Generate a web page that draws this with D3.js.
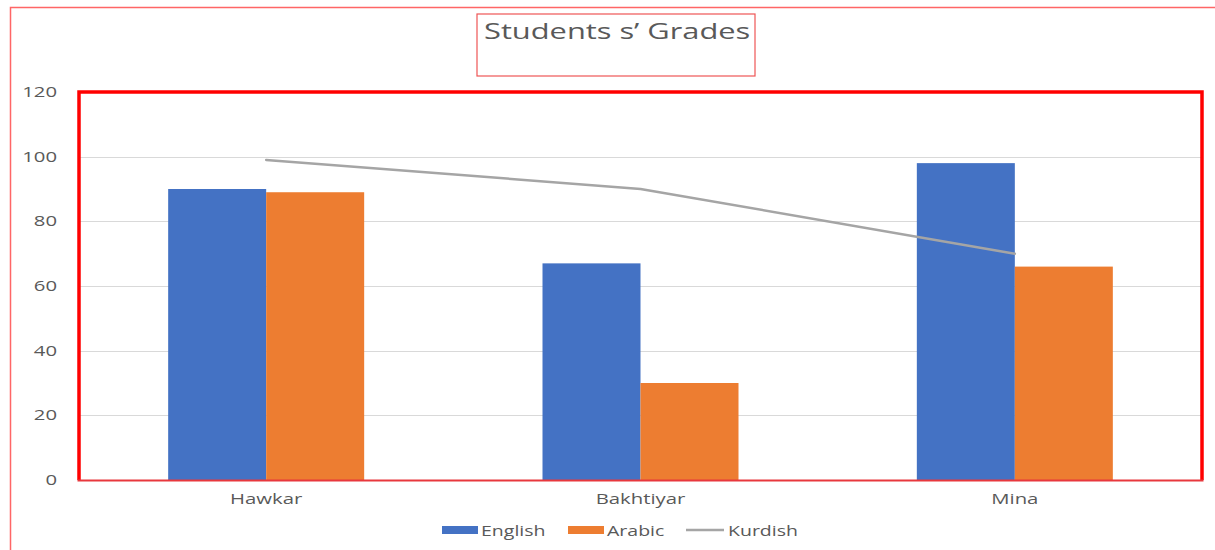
<!DOCTYPE html>
<html>
<head>
<meta charset="utf-8">
<script src="https://cdn.jsdelivr.net/npm/d3@7"></script>
<style>
  body { margin: 0; background: #fff; }
  svg { display: block; font-family: "Open Sans", "DejaVu Sans", sans-serif; }
</style>
</head>
<body>
<svg id="chart" width="1215" height="550"></svg>
<script>
const students = ["Hawkar", "Bakhtiyar", "Mina"];
const english = [90, 67, 98];
const arabic = [89, 30, 66];
const kurdish = [99, 90, 70];
const yTicks = [0, 20, 40, 60, 80, 100, 120];

const colors = { English: "#4472c4", Arabic: "#ed7d31", Kurdish: "#a5a5a5" };
const textColor = "#595959";

const width = 1215;
const height = 550;
const plot = { left: 79, right: 1202, top: 92, bottom: 480 };

const svg = d3.select("#chart");

// the source picture is stretched sideways, so widen the glyphs to match
function stretch(sel, k) {
  sel.each(function () {
    const len = this.getComputedTextLength();
    d3.select(this)
      .attr("textLength", len * k)
      .attr("lengthAdjust", "spacingAndGlyphs");
  });
}

// outer frame (thin red)
svg.append("path")
  .attr("d", `M10.5,${height} V7.5 H${width}`)
  .attr("fill", "none")
  .attr("stroke", "#ff6666")
  .attr("stroke-width", 1.5);

// title box
svg.append("rect")
  .attr("x", 477).attr("y", 14)
  .attr("width", 278).attr("height", 62)
  .attr("fill", "none")
  .attr("stroke", "#ee5555")
  .attr("stroke-width", 1.2);

svg.append("text")
  .attr("x", 484).attr("y", 39)
  .attr("fill", textColor)
  .attr("font-size", "22px")
  .text("Students s’ Grades")
  .call(stretch, 1.4);

const x = d3.scaleBand()
  .domain(students)
  .range([plot.left, plot.right]);

const barW = 98;
const xSub = d3.scaleBand()
  .domain(["English", "Arabic"])
  .range([x.bandwidth() / 2 - barW, x.bandwidth() / 2 + barW]);

const y = d3.scaleLinear()
  .domain([0, 120])
  .range([plot.bottom, plot.top]);

// gridlines
svg.append("g")
  .selectAll("line")
  .data(yTicks.slice(1))
  .join("line")
  .attr("x1", plot.left).attr("x2", plot.right)
  .attr("y1", (d) => Math.round(y(d)) + 0.5)
  .attr("y2", (d) => Math.round(y(d)) + 0.5)
  .attr("stroke", "#d9d9d9")
  .attr("stroke-width", 1);

// y axis labels
const yAxis = svg.append("g")
  .attr("transform", `translate(${plot.left}, 0)`)
  .call(d3.axisLeft(y).tickValues(yTicks).tickSize(0).tickPadding(22));
yAxis.select(".domain").remove();
yAxis.selectAll("text")
  .attr("fill", textColor)
  .attr("font-size", "14px")
  .attr("font-family", "\"Open Sans\", sans-serif")
  .call(stretch, 1.45);

// bars
const series = [
  { name: "English", values: english },
  { name: "Arabic", values: arabic },
];

svg.append("g")
  .selectAll("g")
  .data(series)
  .join("g")
  .attr("fill", (s) => colors[s.name])
  .selectAll("rect")
  .data((s) => s.values.map((v, i) => ({ name: s.name, student: students[i], value: v })))
  .join("rect")
  .attr("x", (d) => x(d.student) + xSub(d.name))
  .attr("width", xSub.bandwidth())
  .attr("y", (d) => y(d.value))
  .attr("height", (d) => y(0) - y(d.value));

// kurdish line
const line = d3.line()
  .x((d, i) => x(students[i]) + x.bandwidth() / 2)
  .y((d) => y(d));

svg.append("path")
  .datum(kurdish)
  .attr("d", line)
  .attr("fill", "none")
  .attr("stroke", colors.Kurdish)
  .attr("stroke-width", 2.5)
  .attr("stroke-linejoin", "round")
  .attr("stroke-linecap", "round");

// x axis
const xAxis = svg.append("g")
  .attr("transform", `translate(0, ${plot.bottom})`)
  .call(d3.axisBottom(x).tickSize(0).tickPadding(14));
xAxis.select(".domain").remove();
xAxis.selectAll("text")
  .attr("fill", textColor)
  .attr("font-size", "14px")
  .attr("font-family", "\"Open Sans\", sans-serif")
  .call(stretch, 1.45);

// plot border (thick red)
svg.append("path")
  .attr("d", `M${plot.left},${plot.bottom} V${plot.top} H${plot.right} V${plot.bottom}`)
  .attr("fill", "none")
  .attr("stroke", "#ff0000")
  .attr("stroke-width", 3.5);
svg.append("line")
  .attr("x1", plot.left - 1.5).attr("x2", plot.right + 1.5)
  .attr("y1", plot.bottom + 0.5).attr("y2", plot.bottom + 0.5)
  .attr("stroke", "#e8383d")
  .attr("stroke-width", 2);

// legend
const legendItems = [
  { name: "English", x: 442, type: "rect" },
  { name: "Arabic", x: 568, type: "rect" },
  { name: "Kurdish", x: 686, type: "line" },
];
const legend = svg.append("g")
  .selectAll("g")
  .data(legendItems)
  .join("g")
  .attr("transform", (d) => `translate(${d.x}, 530)`);

legend.filter((d) => d.type === "rect")
  .append("rect")
  .attr("x", 0).attr("y", -4)
  .attr("width", 36).attr("height", 8)
  .attr("fill", (d) => colors[d.name]);

legend.filter((d) => d.type === "line")
  .append("line")
  .attr("x1", 0).attr("x2", 38)
  .attr("y1", 0).attr("y2", 0)
  .attr("stroke", (d) => colors[d.name])
  .attr("stroke-width", 2.5);

legend.append("text")
  .attr("x", (d) => (d.type === "line" ? 42 : 39))
  .attr("y", 5.5)
  .attr("fill", textColor)
  .attr("font-size", "15px")
  .text((d) => d.name)
  .call(stretch, 1.3);
</script>
</body>
</html>
